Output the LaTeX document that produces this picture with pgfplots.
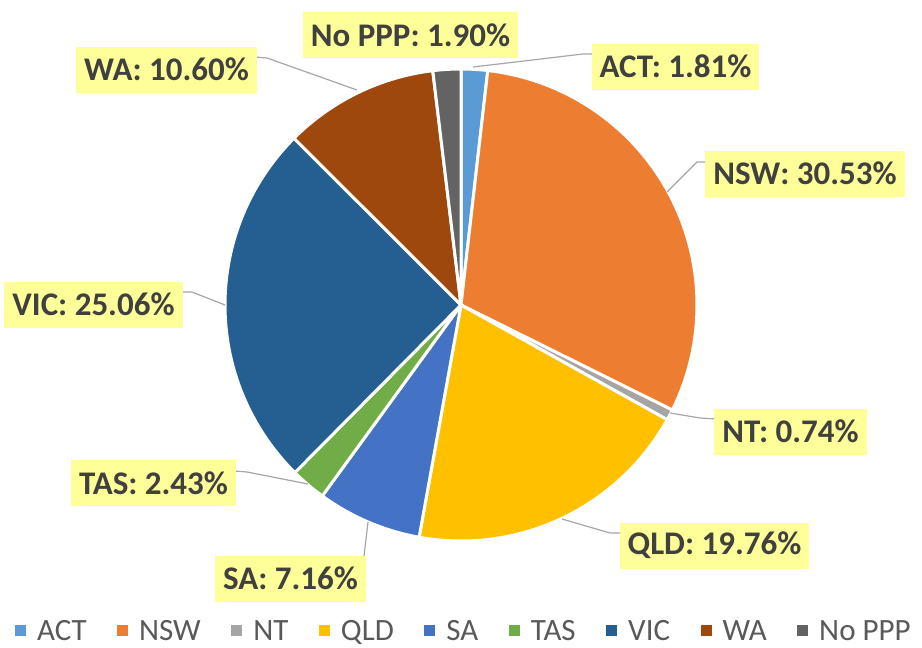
\documentclass[border=0pt]{standalone}
\usepackage{pgfplots}
\pgfplotsset{compat=1.18}
\usepackage{fontspec}
\setmainfont{Carlito}
\definecolor{cACT}{HTML}{5B9BD5}
\definecolor{cNSW}{HTML}{ED7D31}
\definecolor{cNT}{HTML}{A5A5A5}
\definecolor{cQLD}{HTML}{FFC000}
\definecolor{cSA}{HTML}{4472C4}
\definecolor{cTAS}{HTML}{70AD47}
\definecolor{cVIC}{HTML}{255E91}
\definecolor{cWA}{HTML}{9E480E}
\definecolor{cNoPPP}{HTML}{636363}
\definecolor{lblfill}{HTML}{FFFF99}
\definecolor{lbltext}{HTML}{404040}
\definecolor{leader}{HTML}{A6A6A6}
\definecolor{legtext}{HTML}{595959}

\tikzset{
  lbl/.style={fill=lblfill, text=lbltext, font=\fontsize{33}{38}\selectfont\bfseries,
    inner xsep=8pt, inner ysep=0pt, minimum height=46pt, anchor=center},
  ldr/.style={draw=leader, line width=1.2pt},
}

% running cumulative share (percent)
\newcommand\cum{0}
\newcommand\slice[3]{% #1 name, #2 colour, #3 share in percent
  \pgfmathsetmacro\sa{3.6*\cum}%
  \pgfmathsetmacro\se{3.6*(\cum+#3)}%
  \edef\doplot{\noexpand\addplot[fill=#2, draw=white, line width=3pt, line join=round,
    domain=\sa:\se, samples=90, variable=\noexpand\t]
    ({461+236*sin(\noexpand\t)},{305-236*cos(\noexpand\t)}) -- (axis cs:461,305) -- cycle;}%
  \doplot
  \addlegendentry{#1}%
  \pgfmathsetmacro\newcum{\cum+#3}%
  \xdef\cum{\newcum}%
}

\begin{document}
\begin{tikzpicture}
\begin{axis}[
  x=1pt, y=1pt, xmin=0, xmax=922, ymin=0, ymax=648, y dir=reverse,
  hide axis, clip=false,
  legend image code/.code={\fill[#1, draw=none] (0pt,-5.5pt) rectangle (11pt,5.5pt);},
  legend style={draw=none, fill=none, at={(axis cs:15,630)}, anchor=west,
    legend columns=-1, font=\fontsize{31}{37}\selectfont, text=legtext,
    nodes={inner sep=0pt, text depth=0pt, text height=20pt}, inner sep=0pt,
    /tikz/every odd column/.append style={column sep=11pt},
    /tikz/every even column/.append style={column sep=30.5pt}},
]
\slice{ACT}{cACT}{1.81}
\slice{NSW}{cNSW}{30.53}
\slice{NT}{cNT}{0.74}
\slice{QLD}{cQLD}{19.76}
\slice{SA}{cSA}{7.16}
\slice{TAS}{cTAS}{2.43}
\slice{VIC}{cVIC}{25.06}
\slice{WA}{cWA}{10.60}
\slice{No PPP}{cNoPPP}{1.91}

% leader lines
\draw[ldr] (axis cs:594,54) -- (axis cs:583,54) -- (axis cs:473,67);
\draw[ldr] (axis cs:708,162) -- (axis cs:697,162) -- (axis cs:667,192);
\draw[ldr] (axis cs:717,419) -- (axis cs:700,418) -- (axis cs:670,413);
\draw[ldr] (axis cs:623,533) -- (axis cs:610,533) -- (axis cs:562,519);
\draw[ldr] (axis cs:364,556) -- (axis cs:368,522);
\draw[ldr] (axis cs:234,471) -- (axis cs:247,472) -- (axis cs:308,484);
\draw[ldr] (axis cs:180,292) -- (axis cs:192,292) -- (axis cs:225,305);
\draw[ldr] (axis cs:255,57) -- (axis cs:267,58) -- (axis cs:357,90);

% data labels
\node[lbl] at (axis cs:410.5,35) {No PPP: 1.90\%};
\node[lbl] at (axis cs:675.5,66.5) {ACT: 1.81\%};
\node[lbl] at (axis cs:805,173.5) {NSW: 30.53\%};
\node[lbl] at (axis cs:790.5,431.5) {NT: 0.74\%};
\node[lbl] at (axis cs:714.5,545.5) {QLD: 19.76\%};
\node[lbl] at (axis cs:290.5,578.5) {SA: 7.16\%};
\node[lbl] at (axis cs:153.5,483) {TAS: 2.43\%};
\node[lbl] at (axis cs:93.5,304.5) {VIC: 25.06\%};
\node[lbl] at (axis cs:166.5,69.5) {WA: 10.60\%};
\end{axis}
\pgfresetboundingbox
\useasboundingbox (current axis.south west) rectangle (current axis.north east);
\end{tikzpicture}
\end{document}
